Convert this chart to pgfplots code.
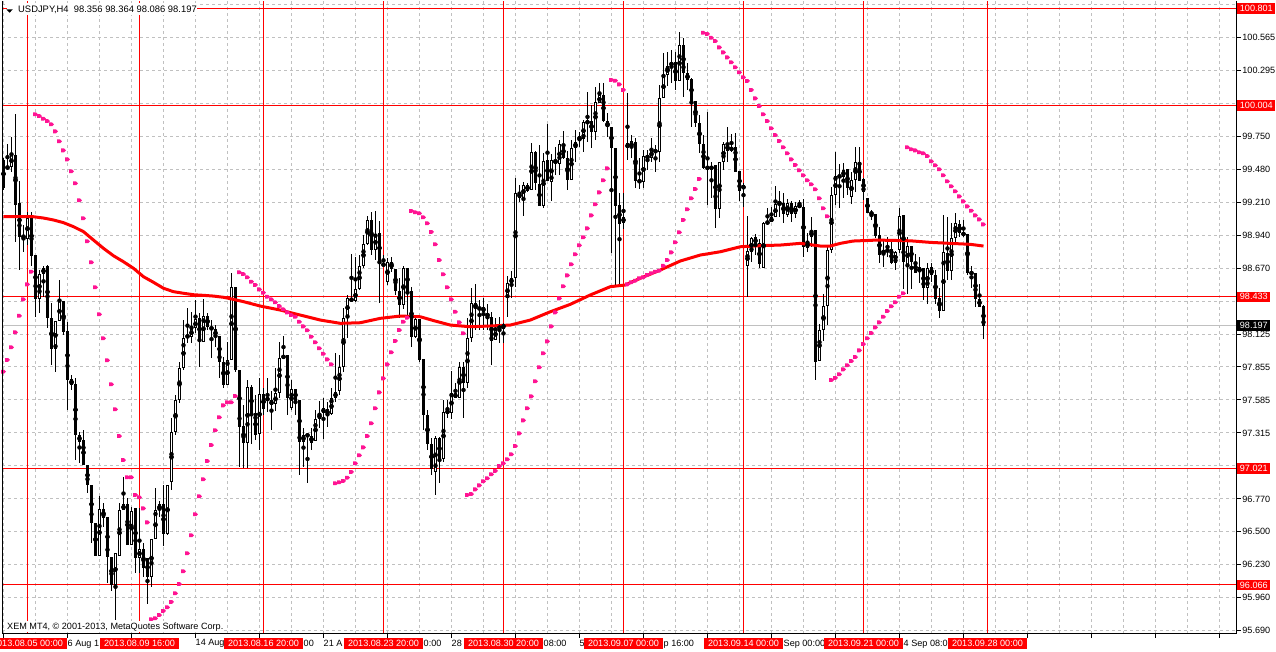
\documentclass[border=0pt]{standalone}
\usepackage{pgfplots}
\usepackage{pgfplotstable}
\pgfplotsset{compat=1.18}
\usepackage{fontspec}
\setmainfont{Liberation Sans}
\definecolor{sar}{RGB}{255,20,147}
\definecolor{gridc}{RGB}{192,192,192}
\definecolor{mtred}{RGB}{255,0,0}
\newcommand\fs{\fontsize{9.1}{10}\selectfont}
\pgfdeclareplotmark{sararrow}{%
  \pgfpathmoveto{\pgfqpoint{-2.4pt}{-1.9pt}}%
  \pgfpathlineto{\pgfqpoint{0.6pt}{-1.9pt}}%
  \pgfpathlineto{\pgfqpoint{2.5pt}{0pt}}%
  \pgfpathlineto{\pgfqpoint{0.6pt}{1.9pt}}%
  \pgfpathlineto{\pgfqpoint{-2.4pt}{1.9pt}}%
  \pgfpathclose\pgfusepathqfill}

\pgfplotstableread{
i o h l c
0 99.557 99.573 99.310 99.332
1 99.485 99.688 99.474 99.507
2 99.502 99.748 99.460 99.598
3 99.598 99.934 98.885 99.187
4 99.201 99.387 98.653 98.926
5 98.935 99.023 98.803 98.922
6 98.905 99.132 98.858 99.078
7 99.097 99.132 98.688 98.770
8 98.776 98.776 98.269 98.412
9 98.420 98.653 98.302 98.618
10 98.618 98.686 98.434 98.675
11 98.686 98.694 98.179 98.261
12 98.261 98.382 97.873 98.001
13 98.001 98.234 97.818 98.234
14 98.234 98.571 98.234 98.398
15 98.398 98.398 98.119 98.146
16 98.152 98.228 97.503 97.755
17 97.758 97.790 97.667 97.708
18 97.716 97.766 97.092 97.297
19 97.297 97.325 97.067 97.242
20 97.256 97.339 97.051 97.051
21 97.051 97.051 96.819 96.887
22 96.887 96.887 96.408 96.572
23 96.577 96.577 96.306 96.306
24 96.306 96.796 96.306 96.690
25 96.687 96.739 96.544 96.618
26 96.626 96.626 96.084 96.298
27 96.298 96.298 96.018 96.065
28 96.065 96.326 95.778 96.326
29 96.306 96.736 96.306 96.681
30 96.681 96.955 96.681 96.728
31 96.728 96.777 96.394 96.394
32 96.394 96.708 96.394 96.673
33 96.700 96.700 96.161 96.285
34 96.290 96.700 96.161 96.359
35 96.359 96.408 96.133 96.202
36 96.290 96.290 95.909 96.133
37 96.133 96.441 96.051 96.441
38 96.441 96.860 96.441 96.681
39 96.681 96.758 96.626 96.728
40 96.728 96.887 96.388 96.484
41 96.484 96.887 96.476 96.887
42 96.909 97.435 96.846 97.325
43 97.322 97.626 97.297 97.585
44 97.585 97.897 97.560 97.848
45 97.848 98.242 97.831 98.092
46 98.103 98.341 98.053 98.113
47 98.105 98.310 98.051 98.174
48 98.174 98.407 98.135 98.248
49 98.256 98.297 97.859 98.078
50 98.064 98.412 98.064 98.277
51 98.277 98.297 98.160 98.187
52 98.187 98.242 97.928 98.160
53 98.166 98.201 98.023 98.105
54 98.111 98.111 97.763 97.900
55 97.900 97.941 97.681 97.708
56 97.708 98.064 97.708 97.914
57 97.914 98.631 97.914 98.511
58 98.511 98.511 97.818 97.831
59 97.831 97.831 97.037 97.366
60 97.371 97.544 97.026 97.229
61 97.229 97.749 97.026 97.692
62 97.689 97.708 97.229 97.467
63 97.476 97.626 97.256 97.297
64 97.303 97.768 97.174 97.632
65 97.632 97.681 97.462 97.509
66 97.610 97.763 97.489 97.577
67 97.585 97.659 97.339 97.544
68 97.550 97.845 97.495 97.640
69 97.645 98.064 97.604 97.928
70 97.928 98.111 97.928 97.955
71 97.955 97.955 97.462 97.599
72 97.522 97.749 97.503 97.675
73 97.675 97.675 97.462 97.577
74 97.585 97.585 96.969 97.242
75 97.242 97.353 97.037 97.297
76 97.303 97.303 96.901 97.287
77 97.287 97.353 97.174 97.237
78 97.251 97.503 97.251 97.429
79 97.427 97.577 97.353 97.476
80 97.481 97.599 97.262 97.517
81 97.509 97.571 97.366 97.462
82 97.467 97.686 97.467 97.599
83 97.599 97.969 97.571 97.653
84 97.661 97.955 97.626 97.859
85 97.859 98.338 97.818 98.261
86 98.269 98.448 98.097 98.420
87 98.420 98.782 98.398 98.398
88 98.398 98.762 98.393 98.494
89 98.494 98.776 98.489 98.686
90 98.688 98.941 98.667 98.864
91 98.864 99.099 98.864 99.064
92 99.064 99.132 98.776 98.817
93 98.817 99.138 98.735 98.946
94 98.954 99.055 98.379 98.716
95 98.708 98.776 98.688 98.688
96 98.552 98.749 98.530 98.716
97 98.716 98.762 98.639 98.661
98 98.661 98.661 98.448 98.483
99 98.483 98.585 98.261 98.365
100 98.365 98.686 98.338 98.667
101 98.667 98.667 98.269 98.483
102 98.483 98.516 98.023 98.105
103 98.105 98.256 98.092 98.250
104 98.250 98.250 97.900 97.919
105 97.922 97.922 97.339 97.462
106 97.462 97.503 97.174 97.224
107 97.221 97.270 96.969 97.018
108 96.996 97.289 96.805 97.275
109 97.275 97.283 96.901 97.100
110 97.098 97.585 97.076 97.484
111 97.484 97.585 97.437 97.495
112 97.481 97.823 97.429 97.640
113 97.640 97.722 97.599 97.604
114 97.604 97.900 97.599 97.859
115 97.859 97.900 97.435 97.722
116 97.722 98.256 97.681 98.092
117 98.092 98.507 98.064 98.379
118 98.379 98.538 98.160 98.343
119 98.346 98.407 98.160 98.330
120 98.308 98.423 98.160 98.349
121 98.305 98.371 98.160 98.264
122 98.264 98.310 97.873 98.070
123 98.078 98.256 98.078 98.174
124 98.187 98.269 98.053 98.174
125 98.209 98.215 98.051 98.174
126 98.420 98.606 98.269 98.544
127 98.544 98.645 98.420 98.585
128 98.585 99.411 98.516 99.283
129 99.283 99.351 99.214 99.247
130 99.247 99.378 99.099 99.351
131 99.351 99.365 99.296 99.302
132 99.310 99.694 99.310 99.620
133 99.620 99.630 99.310 99.365
134 99.365 99.680 99.179 99.179
135 99.179 99.612 99.160 99.548
136 99.557 99.850 99.384 99.384
137 99.378 99.603 99.220 99.557
138 99.548 99.666 99.433 99.538
139 99.529 99.721 99.433 99.686
140 99.686 99.795 99.562 99.571
141 99.571 99.630 99.310 99.392
142 99.392 99.721 99.392 99.658
143 99.653 99.803 99.543 99.707
144 99.735 99.789 99.666 99.737
145 99.729 99.885 99.625 99.866
146 99.871 100.118 99.707 99.866
147 99.877 100.008 99.658 99.789
148 99.789 100.159 99.721 100.031
149 100.022 100.187 100.022 100.091
150 100.091 100.187 99.871 99.877
151 99.877 99.940 99.748 99.825
152 99.825 99.830 98.790 99.653
153 99.653 99.653 98.530 99.181
154 99.187 99.283 98.530 99.028
155 99.037 99.283 98.995 99.091
156 99.694 100.105 99.557 99.653
157 99.653 99.762 99.571 99.713
158 99.702 99.735 99.324 99.387
159 99.392 99.571 99.324 99.373
160 99.373 99.639 99.324 99.589
161 99.589 99.639 99.474 99.575
162 99.571 99.740 99.543 99.639
163 99.639 99.680 99.460 99.620
164 99.620 100.173 99.543 100.063
165 100.063 100.433 100.063 100.255
166 100.255 100.446 100.167 100.331
167 100.331 100.460 100.187 100.359
168 100.359 100.446 100.132 100.206
169 100.206 100.611 100.206 100.501
170 100.501 100.561 100.077 100.269
171 100.269 100.351 100.132 100.214
172 100.222 100.228 99.830 100.041
173 100.041 100.041 99.830 99.863
174 99.863 99.926 99.612 99.686
175 99.686 99.762 99.483 99.488
176 99.499 99.953 99.187 99.488
177 99.488 99.538 99.242 99.499
178 99.516 99.516 99.000 99.152
179 99.152 99.543 99.083 99.538
180 99.538 99.702 99.474 99.688
181 99.688 99.830 99.543 99.630
182 99.630 99.768 99.625 99.666
183 99.666 99.776 99.460 99.460
184 99.466 99.466 99.220 99.304
185 99.316 99.365 99.173 99.351
186 98.688 99.099 98.434 98.809
187 98.803 98.926 98.721 98.913
188 98.922 98.946 98.776 98.867
189 98.872 98.905 98.667 98.700
190 98.667 99.050 98.667 99.037
191 99.037 99.165 99.023 99.050
192 99.045 99.173 99.045 99.086
193 99.086 99.346 99.086 99.193
194 99.201 99.302 99.091 99.203
195 99.201 99.283 99.037 99.111
196 99.105 99.242 99.091 99.201
197 99.201 99.220 99.050 99.111
198 99.111 99.214 99.078 99.179
199 99.173 99.228 99.165 99.187
200 99.173 99.242 98.762 98.839
201 98.831 98.954 98.803 98.885
202 98.922 99.091 98.844 98.976
203 98.982 98.982 97.749 97.900
204 97.908 98.215 97.908 98.160
205 98.160 98.456 98.072 98.357
206 98.357 98.844 98.201 98.817
207 98.817 99.337 98.790 99.269
208 99.269 99.625 99.187 99.425
209 99.419 99.524 99.160 99.425
210 99.419 99.534 99.242 99.474
211 99.480 99.488 99.269 99.324
212 99.250 99.460 99.195 99.392
213 99.392 99.666 99.296 99.538
214 99.538 99.666 99.387 99.387
215 99.398 99.406 99.228 99.296
216 99.242 99.242 99.119 99.124
217 99.132 99.146 99.064 99.105
218 99.113 99.113 98.913 98.932
219 98.941 99.004 98.713 98.776
220 98.790 98.899 98.680 98.817
221 98.817 98.926 98.762 98.809
222 98.823 98.899 98.702 98.713
223 98.713 98.811 98.653 98.803
224 98.817 99.160 98.790 99.097
225 99.105 99.105 98.494 98.721
226 98.694 98.926 98.456 98.850
227 98.850 98.850 98.494 98.721
228 98.719 98.790 98.631 98.631
229 98.639 98.757 98.544 98.675
230 98.667 98.667 98.412 98.503
231 98.503 98.713 98.374 98.667
232 98.675 98.713 98.557 98.612
233 98.612 98.653 98.374 98.420
234 98.420 98.503 98.256 98.319
235 98.319 99.105 98.319 98.798
236 98.798 99.091 98.571 98.647
237 98.647 99.042 98.571 98.913
238 98.913 99.119 98.877 99.037
239 99.031 99.064 98.926 98.959
240 98.941 99.064 98.926 98.959
241 98.949 98.949 98.612 98.631
242 98.637 98.686 98.503 98.620
243 98.631 98.631 98.351 98.420
244 98.420 98.538 98.351 98.351
245 98.356 98.364 98.086 98.197
}\ohlc

\pgfplotstableread{
i v
0 99.091
7.4 99.091
10 99.080
12.5 99.064
15 99.042
17.5 99.009
20 98.968
22.5 98.899
25 98.831
27.5 98.770
30 98.721
32.5 98.667
35 98.598
37.5 98.552
40 98.503
42.5 98.475
45 98.462
47.5 98.450
50 98.445
52.5 98.439
55 98.429
57.5 98.412
60 98.393
64.2 98.357
69.2 98.324
74.2 98.283
79.2 98.242
84.2 98.215
89.2 98.220
94.2 98.256
99.2 98.275
104.2 98.269
107.9 98.234
111.7 98.201
116.7 98.187
121.7 98.193
126.7 98.201
131.7 98.242
136.7 98.310
141.7 98.371
146.7 98.448
151.7 98.516
155.4 98.530
159.2 98.585
164.2 98.653
169.2 98.727
174.2 98.776
179.2 98.803
184.2 98.844
189.2 98.853
194.2 98.858
199.2 98.872
204.2 98.850
206.7 98.850
209.2 98.872
212.4 98.891
218.4 98.899
226.7 98.893
231.7 98.880
236.7 98.872
241.7 98.864
245 98.850
}\ma

\pgfplotstableread{
i v
0 97.818
1 97.914
2 98.018
3 98.141
4 98.277
5 98.412
6 98.535
7 98.639
8 99.932
9 99.918
10 99.896
11 99.877
12 99.850
13 99.792
14 99.710
15 99.636
16 99.562
17 99.464
18 99.365
19 99.226
20 99.078
21 98.889
22 98.716
23 98.511
24 98.289
25 98.092
26 97.911
27 97.714
28 97.509
29 97.289
30 97.092
31 96.950
32 96.950
33 96.805
34 96.786
35 96.695
36 96.580
37 95.784
38 95.792
39 95.819
40 95.852
41 95.882
42 95.926
43 95.997
44 96.073
45 96.178
46 96.326
47 96.474
48 96.646
49 96.794
50 96.934
51 97.084
52 97.215
53 97.336
54 97.443
55 97.541
56 97.566
57 97.566
58 97.618
59 98.634
60 98.620
61 98.593
62 98.557
63 98.530
64 98.494
65 98.467
66 98.434
67 98.412
68 98.388
69 98.357
70 98.330
71 98.305
72 98.283
73 98.269
74 98.228
75 98.190
76 98.158
77 98.105
78 98.059
79 98.010
80 97.965
81 97.919
82 97.878
83 96.901
84 96.909
85 96.920
86 96.947
87 96.994
88 97.065
89 97.131
90 97.196
91 97.289
92 97.394
93 97.517
94 97.648
95 97.763
96 97.878
97 97.977
98 98.070
99 98.160
100 98.228
101 98.261
102 99.138
103 99.127
104 99.119
105 99.086
106 99.037
107 98.966
108 98.864
109 98.735
110 98.618
111 98.511
112 98.412
113 98.310
114 98.223
115 98.133
116 96.805
117 96.813
118 96.851
119 96.884
120 96.917
121 96.942
122 96.975
123 97.002
124 97.043
125 97.065
126 97.098
127 97.139
128 97.207
129 97.311
130 97.418
131 97.517
132 97.615
133 97.739
134 97.854
135 97.969
136 98.067
137 98.190
138 98.305
139 98.420
140 98.519
141 98.609
142 98.700
143 98.782
144 98.856
145 98.922
146 98.995
147 99.102
148 99.193
149 99.291
150 99.390
151 99.488
152 100.214
153 100.208
154 100.178
155 100.132
156 98.535
157 98.552
158 98.565
159 98.585
160 98.593
161 98.612
162 98.626
163 98.639
164 98.647
165 98.688
166 98.735
167 98.798
168 98.881
169 98.963
170 99.064
171 99.152
172 99.242
173 99.318
174 99.401
175 100.602
176 100.592
177 100.561
178 100.534
179 100.482
180 100.441
181 100.400
182 100.359
183 100.318
184 100.277
185 100.236
186 100.206
187 100.132
188 100.063
189 100.000
190 99.932
191 99.877
192 99.817
193 99.762
194 99.713
195 99.661
196 99.612
197 99.562
198 99.516
199 99.472
200 99.431
201 99.390
202 99.357
203 99.316
204 99.242
205 99.160
206 99.094
207 97.749
208 97.766
209 97.796
210 97.837
211 97.870
212 97.905
213 97.938
214 97.993
215 98.045
216 98.092
217 98.135
218 98.182
219 98.223
220 98.269
221 98.316
222 98.355
223 98.388
224 98.434
225 98.462
226 99.661
227 99.645
228 99.636
229 99.620
230 99.612
231 99.589
232 99.546
233 99.513
234 99.480
235 99.431
236 99.382
237 99.341
238 99.300
239 99.258
240 99.217
241 99.176
242 99.140
243 99.102
244 99.069
245 99.028
}\sar

\begin{document}
\begin{tikzpicture}
\useasboundingbox (0pt,0pt) rectangle (1276pt,652pt);
\fill[white] (0pt,0pt) rectangle (1276pt,652pt);
\begin{axis}[
  at={(2.2pt,18pt)}, anchor=south west, scale only axis,
  width=1234.5pt, height=633pt,
  xmin=-0.325, xmax=308.3, ymin=95.663, ymax=100.863,
  axis line style={draw=none},
  ytick={95.690,95.961,96.232,96.502,96.773,97.044,97.315,97.586,97.857,98.127,98.398,98.669,98.940,99.211,99.482,99.752,100.023,100.294,100.565,100.836},
  yticklabels={95.690,95.960,96.230,96.500,96.770,{},97.315,97.585,97.855,98.125,{},98.670,98.940,99.210,99.480,99.750,{},100.295,100.565,{}},
  ytick pos=right, yticklabel pos=right,
  yticklabel style={font=\fs, anchor=west, inner sep=1.5pt, text=black},
  xtick={0,16,...,304}, xticklabels={}, xtick pos=bottom,
  minor xtick={8,24,...,296},
  tick align=outside, major tick length=4pt, minor tick length=0pt,
  major tick style={black, line width=1pt},
  ymajorgrids, xmajorgrids, xminorgrids,
  grid style={gridc, line width=1pt, dash pattern=on 3pt off 3pt},
  minor grid style={gridc, line width=1pt, dash pattern=on 3pt off 3pt},
]
% horizontal line objects
\addplot[mtred, line width=1pt, forget plot] coordinates {(-0.325,100.801) (308.3,100.801)};
\addplot[mtred, line width=1pt, forget plot] coordinates {(-0.325,100.004) (308.3,100.004)};
\addplot[mtred, line width=1pt, forget plot] coordinates {(-0.325,98.433) (308.3,98.433)};
\addplot[mtred, line width=1pt, forget plot] coordinates {(-0.325,97.021) (308.3,97.021)};
\addplot[mtred, line width=1pt, forget plot] coordinates {(-0.325,96.066) (308.3,96.066)};
\addplot[gridc, line width=1pt, forget plot] coordinates {(-0.325,98.197) (308.3,98.197)};
% vertical line objects
\addplot[mtred, line width=1pt, forget plot] coordinates {(6,95.663) (6,100.863)};
\addplot[mtred, line width=1pt, forget plot] coordinates {(34,95.663) (34,100.863)};
\addplot[mtred, line width=1pt, forget plot] coordinates {(65,95.663) (65,100.863)};
\addplot[mtred, line width=1pt, forget plot] coordinates {(95,95.663) (95,100.863)};
\addplot[mtred, line width=1pt, forget plot] coordinates {(125,95.663) (125,100.863)};
\addplot[mtred, line width=1pt, forget plot] coordinates {(155,95.663) (155,100.863)};
\addplot[mtred, line width=1pt, forget plot] coordinates {(185,95.663) (185,100.863)};
\addplot[mtred, line width=1pt, forget plot] coordinates {(215,95.663) (215,100.863)};
\addplot[mtred, line width=1pt, forget plot] coordinates {(246,95.663) (246,100.863)};
% wicks
\addplot[forget plot, only marks, mark=none,
  error bars/.cd, y dir=both, y explicit, error mark=none,
  error bar style={black, line width=1pt}]
  table[x=i, y expr={(\thisrow{h}+\thisrow{l})/2}, y error expr={(\thisrow{h}-\thisrow{l})/2}] {\ohlc};
% bodies (black)
\addplot[forget plot, only marks, mark=none,
  error bars/.cd, y dir=both, y explicit, error mark=none,
  error bar style={black, line width=3pt}]
  table[x=i, y expr={(\thisrow{o}+\thisrow{c})/2}, y error expr={max(abs(\thisrow{c}-\thisrow{o})/2,0.0045)}] {\ohlc};
% white interiors of bullish bodies
\addplot[forget plot, only marks, mark=none,
  error bars/.cd, y dir=both, y explicit, error mark=none,
  error bar style={white, line width=1pt}]
  table[x=i, y expr={(\thisrow{o}+\thisrow{c})/2}, y error expr={max((\thisrow{c}-\thisrow{o})/2-0.0082,0)}] {\ohlc};
% moving average
\addplot[mtred, line width=3pt, no markers, line join=round] table[x=i, y=v] {\ma};
% parabolic SAR
\addplot[only marks, mark=sararrow, color=sar] table[x=i, y=v] {\sar};
\coordinate (r1) at (axis cs:308.3,100.801);
\coordinate (r2) at (axis cs:308.3,100.004);
\coordinate (r3) at (axis cs:308.3,98.433);
\coordinate (r4) at (axis cs:308.3,97.021);
\coordinate (r5) at (axis cs:308.3,96.066);
\coordinate (r6) at (axis cs:308.3,98.197);
\end{axis}
% frame: left, bottom, right
\draw[black, line width=1pt] (current axis.north west) -- (current axis.south west) -- (current axis.south east) -- (current axis.north east);
% right price labels
\tikzset{pbox/.style={anchor=west, fill=mtred, text=white, font=\fs, inner xsep=2.4pt, inner ysep=0pt, minimum height=10.5pt}}
\node[pbox] at ([xshift=0.6pt]r1) {100.801};
\node[pbox] at ([xshift=0.6pt]r2) {100.004};
\node[pbox] at ([xshift=0.6pt]r3) {98.433};
\node[pbox] at ([xshift=0.6pt]r4) {97.021};
\node[pbox] at ([xshift=0.6pt]r5) {96.066};
\node[pbox, fill=black] at ([xshift=0.6pt]r6) {98.197};
% bottom time labels (visible parts)
\tikzset{tl/.style={anchor=west, inner sep=0pt, font=\fs, text=black}}
\node[tl] at (67.5pt,8.2pt) {6 Aug 1};
\node[tl] at (195.5pt,8.2pt) {14 Aug};
\node[tl] at (303.5pt,8.2pt) {00};
\node[tl] at (323.5pt,8.2pt) {21 A};
\node[tl] at (423.5pt,8.2pt) {0:00};
\node[tl] at (451.5pt,8.2pt) {28};
\node[tl] at (543.5pt,8.2pt) {08:00};
\node[tl] at (579.5pt,8.2pt) {5};
\node[tl] at (663.5pt,8.2pt) {p 16:00};
\node[tl] at (783.5pt,8.2pt) {Sep 00:00};
\node[tl] at (903.5pt,8.2pt) {4 Sep 08:0};
\tikzset{dbox/.style={fill=mtred, text=white, font=\fs, inner xsep=3.6pt, inner ysep=0pt, minimum height=11pt}}
\node[dbox] at (27.5pt,8.2pt) {2013.08.05 00:00};
\node[dbox] at (139.5pt,8.2pt) {2013.08.09 16:00};
\node[dbox] at (263.5pt,8.2pt) {2013.08.16 20:00};
\node[dbox] at (383.5pt,8.2pt) {2013.08.23 20:00};
\node[dbox] at (503.5pt,8.2pt) {2013.08.30 20:00};
\node[dbox] at (623.5pt,8.2pt) {2013.09.07 00:00};
\node[dbox] at (743.5pt,8.2pt) {2013.09.14 00:00};
\node[dbox] at (863.5pt,8.2pt) {2013.09.21 00:00};
\node[dbox] at (987.5pt,8.2pt) {2013.09.28 00:00};
% header
\fill[white] (6.5pt,637pt) rectangle (197pt,649pt);
\fill[black] (6.3pt,642.7pt) -- (12.9pt,642.7pt) -- (9.6pt,639.3pt) -- cycle;
\node[anchor=west, inner sep=0pt, font=\fontsize{9.4}{10}\selectfont] at (18pt,642.5pt) {USDJPY,H4\ \ 98.356 98.364 98.086 98.197};
% copyright
\node[anchor=west, fill=white, inner xsep=0.5pt, inner ysep=1pt, font=\fs] at (6.5pt,25.3pt) {XEM MT4, \textcopyright\ 2001-2013, MetaQuotes Software Corp.};
\end{tikzpicture}
\end{document}
